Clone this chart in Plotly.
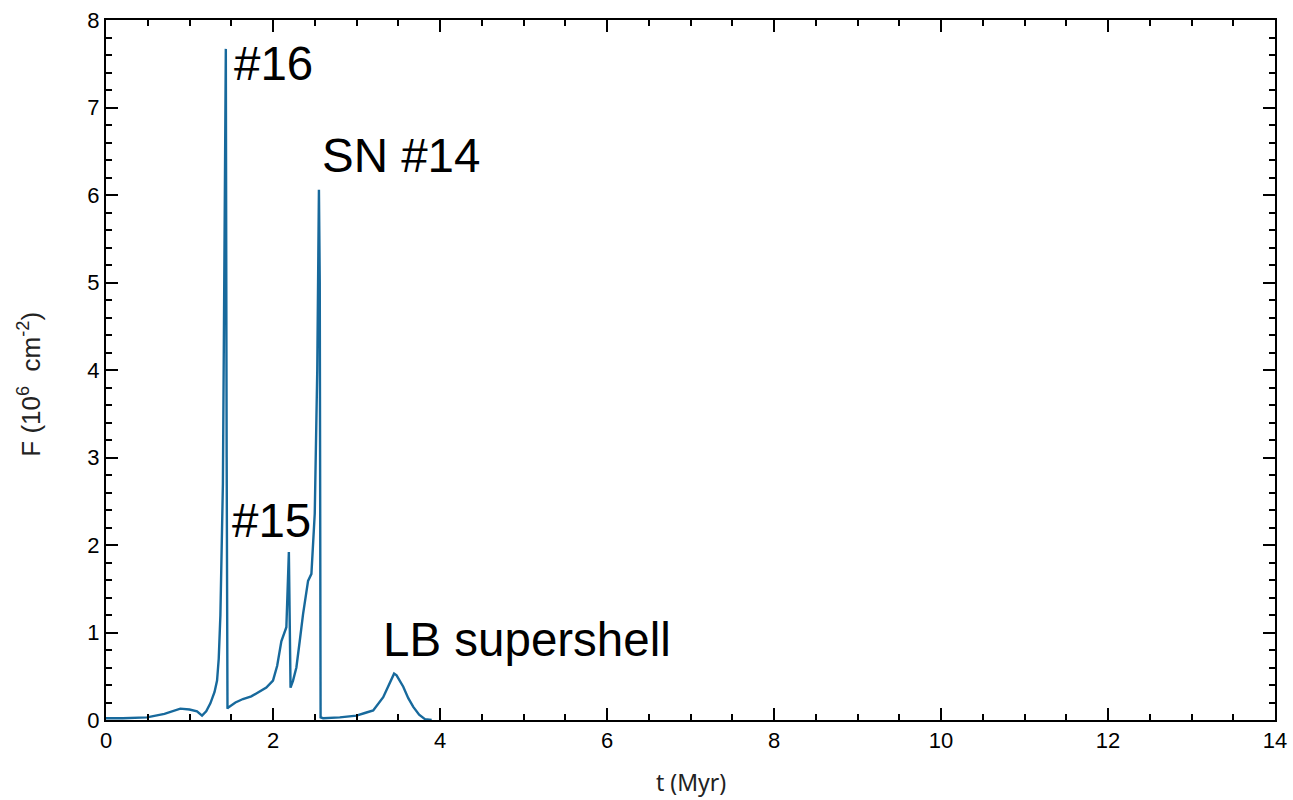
import plotly.graph_objects as go

# Flux history F(t) in units of 1e6 cm^-2
t_myr = [0.0, 0.2, 0.49, 0.7, 0.89, 1.0, 1.09, 1.15, 1.2, 1.25, 1.30, 1.33,
         1.35, 1.37, 1.40, 1.42, 1.435, 1.445, 1.455, 1.46, 1.55, 1.64, 1.74,
         1.84, 1.92, 2.0, 2.05, 2.10, 2.16, 2.19, 2.20, 2.21, 2.24, 2.28,
         2.32, 2.36, 2.42, 2.46, 2.50, 2.53, 2.55, 2.56, 2.57, 2.6, 2.8, 3.0,
         3.1, 3.2, 3.32, 3.4, 3.45, 3.48, 3.52, 3.56, 3.62, 3.68, 3.75, 3.82,
         3.9]
flux = [0.02, 0.02, 0.03, 0.07, 0.13, 0.12, 0.10, 0.05, 0.10, 0.19, 0.32, 0.45,
        0.70, 1.2, 2.7, 5.5, 7.67, 3.0, 0.13, 0.14, 0.20, 0.24, 0.27,
        0.33, 0.37, 0.45, 0.62, 0.90, 1.06, 1.92, 1.2, 0.37, 0.45, 0.60,
        0.90, 1.21, 1.59, 1.67, 2.36, 4.0, 6.06, 5.0, 0.03, 0.02, 0.03, 0.05,
        0.08, 0.11, 0.26, 0.42, 0.53, 0.51, 0.45, 0.38, 0.25, 0.15, 0.06, 0.01,
        0.0]

# Event labels and their anchor positions (t, F)
label_text = ["#16", "SN #14", "#15", "LB supershell"]
label_t = [1.51, 2.56, 1.485, 3.29]
label_f = [7.50, 6.45, 2.28, 0.92]

line_color = "#17699c"
font_main = "Liberation Sans, Arial, Helvetica, sans-serif"

fig = go.Figure()
fig.add_trace(go.Scatter(x=t_myr, y=flux, mode="lines",
                         line=dict(color=line_color, width=2.4),
                         showlegend=False, hoverinfo="skip"))

for txt, tx, fy in zip(label_text, label_t, label_f):
    fig.add_annotation(x=tx, y=fy, text=txt, showarrow=False,
                       xanchor="left", yanchor="middle",
                       font=dict(family=font_main, size=47.5, color="black"))

# Axis titles
fig.add_annotation(xref="paper", yref="paper", x=-0.065, y=0.479,
                   text="F (10<sup>6</sup>&nbsp; cm<sup>-2</sup>)", textangle=-90,
                   showarrow=False, xanchor="center", yanchor="middle",
                   font=dict(family=font_main, size=26, color="#222"))
fig.add_annotation(xref="paper", yref="paper", x=0.5, y=-0.089,
                   text="t (Myr)", showarrow=False,
                   xanchor="center", yanchor="middle",
                   font=dict(family="Noto Sans, sans-serif", size=23,
                             color="#222"))

axis_common = dict(
    showgrid=False, zeroline=False, showline=True, linecolor="black",
    linewidth=2, mirror="allticks", ticks="inside", ticklen=12,
    tickwidth=1.5, tickcolor="black", automargin=False,
    tickfont=dict(family=font_main, size=22, color="black"),
)

fig.update_xaxes(range=[0, 14], dtick=2, tick0=0,
                 minor=dict(dtick=0.5, ticks="inside", ticklen=6,
                            tickwidth=1.5, tickcolor="black"),
                 **axis_common)
fig.update_yaxes(range=[0, 8], dtick=1, tick0=0,
                 minor=dict(dtick=0.2, ticks="inside", ticklen=6,
                            tickwidth=1.5, tickcolor="black"),
                 **axis_common)

fig.update_layout(
    width=1293, height=800,
    margin=dict(l=106, r=18, t=20, b=80),
    plot_bgcolor="white", paper_bgcolor="white",
)

fig.write_html("out.html")
